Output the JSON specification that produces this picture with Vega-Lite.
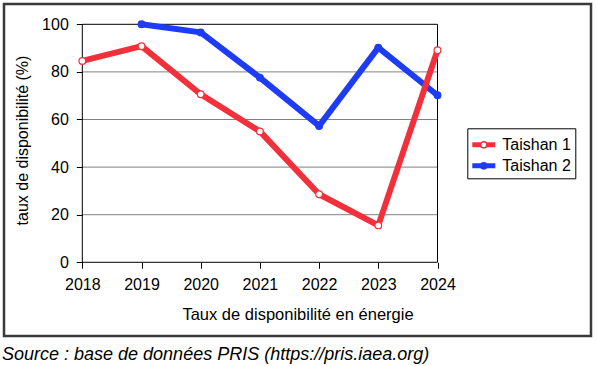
{
  "$schema": "https://vega.github.io/schema/vega-lite/v6.json",
  "width": 587,
  "height": 332,
  "autosize": {"type": "none"},
  "padding": {"left": 4, "top": 4, "right": 6, "bottom": 30},
  "background": "white",
  "config": {
    "view": {"stroke": "#3a3a3a", "strokeWidth": 2.5},
    "font": "Liberation Sans"
  },
  "title": {
    "text": "Source : base de données PRIS (https://pris.iaea.org)",
    "orient": "bottom",
    "anchor": "start",
    "frame": "group",
    "fontStyle": "italic",
    "fontWeight": "normal",
    "fontSize": 18,
    "color": "#000000",
    "offset": 9.5,
    "baseline": "top",
    "dx": -2
  },
  "datasets": {
    "grid": [
      {"year": 2018, "year2": 2024, "value": 20},
      {"year": 2018, "year2": 2024, "value": 40},
      {"year": 2018, "year2": 2024, "value": 60},
      {"year": 2018, "year2": 2024, "value": 80}
    ],
    "frame": [
      {"year": 2018, "year2": 2024, "value": 0, "value2": 100}
    ],
    "series": [
      {"series": "Taishan 2", "year": 2019, "value": 100},
      {"series": "Taishan 2", "year": 2020, "value": 96.6},
      {"series": "Taishan 2", "year": 2021, "value": 77.6},
      {"series": "Taishan 2", "year": 2022, "value": 57.3},
      {"series": "Taishan 2", "year": 2023, "value": 90.2},
      {"series": "Taishan 2", "year": 2024, "value": 70.2},
      {"series": "Taishan 1", "year": 2018, "value": 84.6},
      {"series": "Taishan 1", "year": 2019, "value": 90.8},
      {"series": "Taishan 1", "year": 2020, "value": 70.6},
      {"series": "Taishan 1", "year": 2021, "value": 55.0},
      {"series": "Taishan 1", "year": 2022, "value": 28.6},
      {"series": "Taishan 1", "year": 2023, "value": 15.5},
      {"series": "Taishan 1", "year": 2024, "value": 89.1}
    ]
  },
  "encoding": {
    "x": {
      "field": "year",
      "type": "quantitative",
      "scale": {"domain": [2016.677, 2026.593], "nice": false, "zero": false},
      "axis": {
        "orient": "bottom",
        "offset": -73.7,
        "values": [2018, 2019, 2020, 2021, 2022, 2023, 2024],
        "format": "d",
        "domain": false,
        "grid": false,
        "tickSize": 6,
        "tickColor": "#000000",
        "labelPadding": 8,
        "labelFontSize": 16,
        "labelColor": "#000000",
        "labelFlush": false,
        "labelOverlap": false,
        "title": "Taux de disponibilité en énergie",
        "titleFontSize": 16.5,
        "titleFontWeight": "normal",
        "titleColor": "#000000",
        "titleBaseline": "alphabetic",
        "titleX": 293.5,
        "titleY": 57
      }
    },
    "y": {
      "field": "value",
      "type": "quantitative",
      "scale": {"domain": [-30.97, 108.53], "nice": false, "zero": false},
      "axis": {
        "orient": "left",
        "offset": -78.3,
        "values": [0, 20, 40, 60, 80, 100],
        "domain": false,
        "grid": false,
        "tickSize": 6,
        "tickColor": "#000000",
        "labelPadding": 8,
        "labelFontSize": 16,
        "labelColor": "#000000",
        "labelOverlap": false,
        "title": "taux de disponibilité (%)",
        "titleFontSize": 16,
        "titleFontWeight": "normal",
        "titleColor": "#000000",
        "titleAngle": -90,
        "titleAlign": "center",
        "titleBaseline": "alphabetic",
        "titleX": -55,
        "titleY": 136
      }
    }
  },
  "layer": [
    {
      "data": {"name": "grid"},
      "mark": {"type": "rule", "color": "#808080", "strokeWidth": 1},
      "encoding": {"x2": {"field": "year2"}}
    },
    {
      "data": {"name": "frame"},
      "mark": {"type": "rect", "fill": "white", "fillOpacity": 0, "stroke": "#000000", "strokeWidth": 1},
      "encoding": {"x2": {"field": "year2"}, "y2": {"field": "value2"}}
    },
    {
      "data": {"name": "series"},
      "mark": {"type": "line", "strokeWidth": 6, "strokeJoin": "round"},
      "encoding": {
        "stroke": {
          "field": "series",
          "type": "nominal",
          "scale": {"domain": ["Taishan 1", "Taishan 2"], "range": ["#f2303b", "#1e3cf5"]},
          "legend": {
            "title": null,
            "orient": "none",
            "legendX": 463.3,
            "legendY": 124.3,
            "padding": 4,
            "strokeColor": "#000000",
            "fillColor": "white",
            "labelFontSize": 16,
            "labelColor": "#000000",
            "labelOffset": 6,
            "symbolSize": 529,
            "symbolStrokeWidth": 1.5,
            "symbolOpacity": 1,
            "rowPadding": -2.7,
            "symbolType": "M-1,-0.15H-0.27M-1,-0.05H-0.27M-1,0.05H-0.27M-1,0.15H-0.27M0.27,-0.15H1M0.27,-0.05H1M0.27,0.05H1M0.27,0.15H1M-0.27,0A0.27,0.27,0,1,0,0.27,0A0.27,0.27,0,1,0,-0.27,0Z"
          }
        }
      }
    },
    {
      "data": {"name": "series"},
      "mark": {"type": "point", "shape": "circle", "filled": true, "size": 45, "strokeWidth": 1.2, "opacity": 1},
      "encoding": {
        "stroke": {
          "field": "series",
          "type": "nominal",
          "scale": {"domain": ["Taishan 1", "Taishan 2"], "range": ["#f2303b", "#1e3cf5"]},
          "legend": {
            "title": null,
            "orient": "none",
            "legendX": 463.3,
            "legendY": 124.3,
            "padding": 4,
            "strokeColor": "#000000",
            "fillColor": "white",
            "labelFontSize": 16,
            "labelColor": "#000000",
            "labelOffset": 6,
            "symbolSize": 529,
            "symbolStrokeWidth": 1.5,
            "symbolOpacity": 1,
            "rowPadding": -2.7,
            "symbolType": "M-1,-0.15H-0.27M-1,-0.05H-0.27M-1,0.05H-0.27M-1,0.15H-0.27M0.27,-0.15H1M0.27,-0.05H1M0.27,0.05H1M0.27,0.15H1M-0.27,0A0.27,0.27,0,1,0,0.27,0A0.27,0.27,0,1,0,-0.27,0Z"
          }
        },
        "fill": {
          "field": "series",
          "type": "nominal",
          "scale": {"domain": ["Taishan 1", "Taishan 2"], "range": ["#ffffff", "#1e3cf5"]},
          "legend": {
            "title": null,
            "orient": "none",
            "legendX": 463.3,
            "legendY": 124.3,
            "padding": 4,
            "strokeColor": "#000000",
            "fillColor": "white",
            "labelFontSize": 16,
            "labelColor": "#000000",
            "labelOffset": 6,
            "symbolSize": 529,
            "symbolStrokeWidth": 1.5,
            "symbolOpacity": 1,
            "rowPadding": -2.7,
            "symbolType": "M-1,-0.15H-0.27M-1,-0.05H-0.27M-1,0.05H-0.27M-1,0.15H-0.27M0.27,-0.15H1M0.27,-0.05H1M0.27,0.05H1M0.27,0.15H1M-0.27,0A0.27,0.27,0,1,0,0.27,0A0.27,0.27,0,1,0,-0.27,0Z"
          }
        }
      }
    }
  ]
}
